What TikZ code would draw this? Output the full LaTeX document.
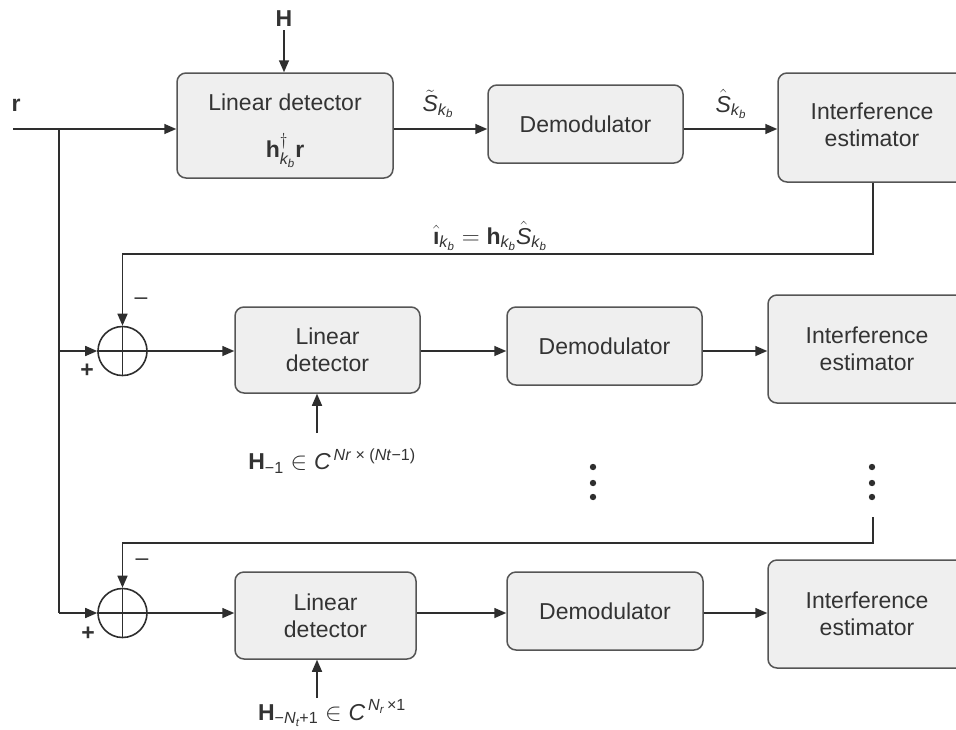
\documentclass[tikz,border=0pt]{standalone}
\usepackage{amsmath}
\usepackage{fontspec}
\setmainfont{Liberation Sans}
\usetikzlibrary{arrows.meta}

\definecolor{boxfill}{HTML}{EFEFEF}
\definecolor{boxline}{HTML}{555555}
\definecolor{wire}{HTML}{2E2E2E}
\definecolor{ink}{HTML}{333333}

% italic and bold letters in the sans text face
\newcommand{\vi}[1]{\textit{#1}}
\newcommand{\vb}[1]{\textbf{#1}}
\newcommand{\kb}{\vi{k}_{\vi{b}}}

\begin{document}
\begin{tikzpicture}[x=1pt,y=-1pt,
  font=\fontsize{23}{27}\selectfont,
  every node/.style={text=ink},
  box/.style={draw=boxline, fill=boxfill, rounded corners=9pt, line width=1.5pt,
              align=center, inner sep=0pt},
  wire/.style={draw=wire, line width=1.6pt},
  arr/.style={wire, -{Triangle[length=12pt,width=10pt]}},
  sumnode/.style={circle, draw=wire, line width=1.6pt, minimum size=49pt, inner sep=0pt},
  sign/.style={text=ink, inner sep=0pt},
  dot/.style={fill=wire}]

\useasboundingbox (0,0) rectangle (956,729);
\clip (0,0) rectangle (956,729);

% ---------- first stage ----------
\node[box, minimum width=216pt, minimum height=105pt] (LD1) at (285,125.5)
  {\raisebox{-3pt}{Linear detector}\\[22pt] \smash[b]{$\vb{h}^{\dagger}_{\kb}\vb{r}$}};
\node[box, minimum width=195pt, minimum height=78pt] (D1) at (585.5,124) {Demodulator};
\node[box, minimum width=188pt, minimum height=109pt] (IE1) at (872,127.5)
  {\raisebox{5pt}{\begin{tabular}{@{}c@{}}Interference\\estimator\end{tabular}}};

\node (H) at (284,19) {\vb{H}};
\node (r) at (16,105) {\vb{r}};
\coordinate (rin) at (13,129);
\coordinate (bj) at (59,129);

\draw[arr] (H) -- (H |- LD1.north);
\draw[arr] (rin) -- (rin -| LD1.west);
\draw[arr] (LD1.east |- rin) -- (D1.west |- rin);
\draw[arr] (D1.east |- rin) -- (IE1.west |- rin);

\node (st) at (438,104) {$\tilde{\vi{S}}_{\kb}$};
\node (sh) at (731,104) {$\hat{\vi{S}}_{\kb}$};

% ---------- second stage ----------
\node[sumnode] (s1) at (122.5,351) {};
\draw[wire] (s1.north) -- (s1.south) (s1.west) -- (s1.east);

\node[box, minimum width=185pt, minimum height=86pt] (LD2) at (327.5,350)
  {Linear\\detector};
\node[box, minimum width=195pt, minimum height=78pt] (D2) at (604.5,346) {Demodulator};
\node[box, minimum width=198pt, minimum height=108pt] (IE2) at (867,349)
  {Interference\\estimator};

\draw[arr] (bj |- s1) -- (s1.west);
\draw[arr] (s1.east) -- (s1.east -| LD2.west);
\draw[arr] (LD2.east |- s1) -- (D2.west |- s1);
\draw[arr] (D2.east |- s1) -- (IE2.west |- s1);

\coordinate (fb1) at (873,254);
\draw[arr] (IE1.south -| fb1) -- (fb1) -| (s1.north);
\node (il) at (490,236) {$\hat{\text{\textbf{\i}}}_{\kb} = \vb{h}_{\kb}\hat{\vi{S}}_{\kb}$};
\node[sign] (m1) at (141,301) {\textendash};
\node[sign] (p1) at (87,371) {\vb{+}};

\node (H1) at (332,461) {$\vb{H}_{\text{−1}} \in \vi{C}^{\,\text{\vi{Nr} × (\vi{Nt}−1)}}$};
\coordinate (h1in) at (317,433);
\draw[arr] (h1in) -- (h1in |- LD2.south);

% ---------- continuation dots ----------
\foreach \yy in {467,483,497} {
  \fill[dot] (593,\yy) circle (3.2pt);
  \fill[dot] (872,\yy) circle (3.2pt);
}

% ---------- last stage ----------
\node[sumnode] (s2) at (122.5,613) {};
\draw[wire] (s2.north) -- (s2.south) (s2.west) -- (s2.east);

\node[box, minimum width=181pt, minimum height=87pt] (LD3) at (325.5,615.5)
  {Linear\\detector};
\node[box, minimum width=196pt, minimum height=78pt] (D3) at (605,611) {Demodulator};
\node[box, minimum width=198pt, minimum height=108pt] (IE3) at (867,614)
  {Interference\\estimator};

\draw[wire] (bj) -- (bj |- s2);
\draw[arr] (bj |- s2) -- (s2.west);
\draw[arr] (s2.east) -- (s2.east -| LD3.west);
\draw[arr] (LD3.east |- s2) -- (D3.west |- s2);
\draw[arr] (D3.east |- s2) -- (IE3.west |- s2);

\coordinate (fb2top) at (873,517);
\coordinate (fb2) at (873,543);
\draw[arr] (fb2top) -- (fb2) -| (s2.north);
\node[sign] (m2) at (142,562) {\textendash};
\node[sign] (p2) at (88,634) {\vb{+}};

\node (H2) at (332,713) {$\vb{H}_{\text{−}\vi{N}_{\vi{t}}\text{+1}} \in \vi{C}^{\,\vi{N}_{\vi{r}}\,\text{×1}}$};
\coordinate (h2in) at (317,698);
\draw[arr] (h2in) -- (h2in |- LD3.south);

\end{tikzpicture}
\end{document}
